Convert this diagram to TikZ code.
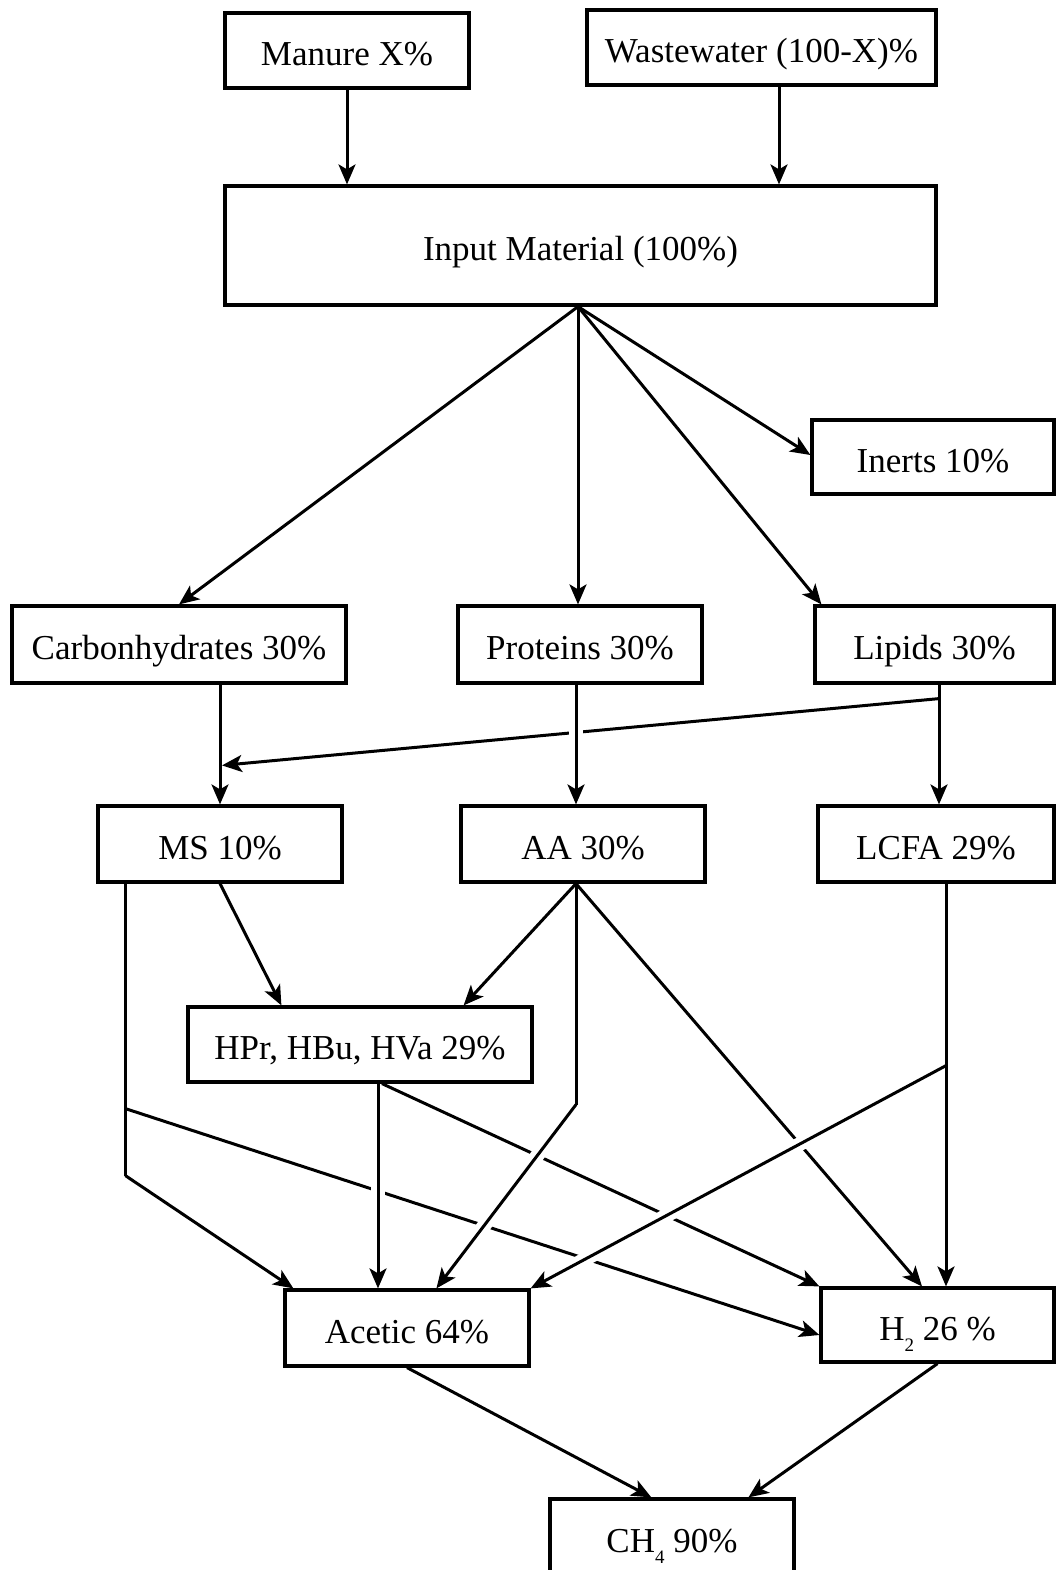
\documentclass[tikz,border=0pt]{standalone}
\usepackage{fontspec}
\setmainfont{Liberation Serif}
\usetikzlibrary{arrows.meta}
\newcommand{\subdig}[1]{\raisebox{-5.5pt}[0pt][0pt]{\fontsize{9.5}{10}\selectfont #1}}
\begin{document}
\begin{tikzpicture}[x=0.5pt,y=-0.5pt,
  box/.style={draw, line width=1.6pt, inner sep=0pt, text height=15pt, text depth=0pt,
    font=\fontsize{17.5}{21}\selectfont},
  ln/.style={line width=1.5pt},
  arr/.style={line width=1.5pt, -{Stealth[length=10pt,width=8.5pt,inset=2.5pt]}},
  halo/.style={draw=white, line width=7pt}]
\useasboundingbox (0,0) rectangle (1056,1570);
\clip (0,0) rectangle (1056,1570);
% boxes
\node[box, minimum width=122pt, minimum height=37.5pt] (man) at (347,50.5) {Manure X\%};
\node[box, minimum width=174.5pt, minimum height=37.5pt] (ww) at (761.5,47.5) {Wastewater (100-X)\%};
\node[box, minimum width=355.5pt, minimum height=59.5pt] (inp) at (580.5,245.5) {Input Material (100\%)};
\node[box, minimum width=121pt, minimum height=37pt] (ine) at (933,457) {Inerts 10\%};
\node[box, minimum width=167pt, minimum height=38.5pt] (car) at (179,644.5) {Carbonhydrates 30\%};
\node[box, minimum width=122pt, minimum height=38.5pt] (pro) at (580,644.5) {Proteins 30\%};
\node[box, minimum width=119.5pt, minimum height=38.5pt] (lip) at (934.5,644.5) {Lipids 30\%};
\node[box, minimum width=122pt, minimum height=38pt] (ms) at (220,844) {MS 10\%};
\node[box, minimum width=122pt, minimum height=38pt] (aa) at (583,844) {AA 30\%};
\node[box, minimum width=118pt, minimum height=38pt] (lcfa) at (936,844) {LCFA 29\%};
\node[box, minimum width=172pt, minimum height=37.5pt] (hpr) at (360,1044.5) {HPr, HBu, HVa 29\%};
\node[box, minimum width=122pt, minimum height=38pt] (ace) at (407,1328) {Acetic 64\%};
\node[box, minimum width=116.5pt, minimum height=37pt] (h2) at (937.5,1325) {H\subdig{2} 26 \%};
\node[box, minimum width=122pt, minimum height=38pt] (ch4) at (672,1537) {CH\subdig{4} 90\%};
% helper coordinates
\coordinate (iv) at ([xshift=-1.25pt]inp.south);
\coordinate (lx) at ([xshift=2.25pt]lip.south);
\coordinate (px) at ([xshift=-2pt]pro.south);
\coordinate (ml) at ([xshift=14.5pt]ms.south west);
\coordinate (mb) at ([yshift=-112.5pt]ml);
\coordinate (mc) at ([yshift=-146pt]ml);
\coordinate (av) at ([xshift=-3.5pt]aa.south);
\coordinate (ak) at ([yshift=-110.5pt]av);
\coordinate (lc) at ([xshift=5pt]lcfa.south);
\coordinate (lk) at ([yshift=-91pt]lc);
\coordinate (hx) at ([xshift=9pt]hpr.south);
% top
\draw[arr] (man.south) -- (man.south |- inp.north);
\draw[arr] ([xshift=8.75pt]ww.south) -- ([xshift=8.75pt]ww.south |- inp.north);
\draw[arr] (iv) -- (car.north);
\draw[arr] (iv) -- (iv |- pro.north);
\draw[arr] (iv) -- ([xshift=4pt]lip.north west);
\draw[arr] (iv) -- ([yshift=1pt]ine.west);
\draw[arr] (ms.north |- car.south) -- (ms.north);
\draw[arr] (lx) -- (lx |- lcfa.north);
% lines that are broken at crossings
\draw[arr] ([yshift=-7pt]lx) -- ([xshift=1pt,yshift=19.5pt]ms.north);
\draw[arr] (mb) -- ([yshift=-5pt]h2.west);
\draw[arr] ([xshift=11pt]hpr.south) -- (h2.north west);
\draw[arr] (av) -- ([xshift=-7.75pt]h2.north);
% plain lines
\draw[arr] (ms.south) -- ([xshift=47.5pt]hpr.north west);
\draw[ln] (ml) -- (mc);
\draw[arr] (mc) -- ([xshift=5pt]ace.north west);
\draw[arr] (av) -- ([xshift=-35pt]hpr.north east);
\draw[ln] (av) -- (ak);
\draw[arr] (lc) -- (lc |- h2.north);
% over lines with halos
\draw[halo, shorten <=12pt, shorten >=12pt] (px) -- (px |- aa.north);
\draw[arr] (px) -- (px |- aa.north);
\draw[halo, shorten <=15pt, shorten >=15pt] (hx) -- (hx |- ace.north);
\draw[arr] (hx) -- (hx |- ace.north);
\draw[halo, shorten <=15pt, shorten >=15pt] (ak) -- ([xshift=76.5pt]ace.north west);
\draw[arr] (ak) -- ([xshift=76.5pt]ace.north west);
\draw[halo, shorten <=12pt, shorten >=15pt] (lk) -- (ace.north east);
\draw[arr] (lk) -- (ace.north east);
% bottom
\draw[arr] (ace.south) -- ([xshift=51.5pt]ch4.north west);
\draw[arr] (h2.south) -- ([xshift=100pt]ch4.north west);
\end{tikzpicture}
\end{document}
